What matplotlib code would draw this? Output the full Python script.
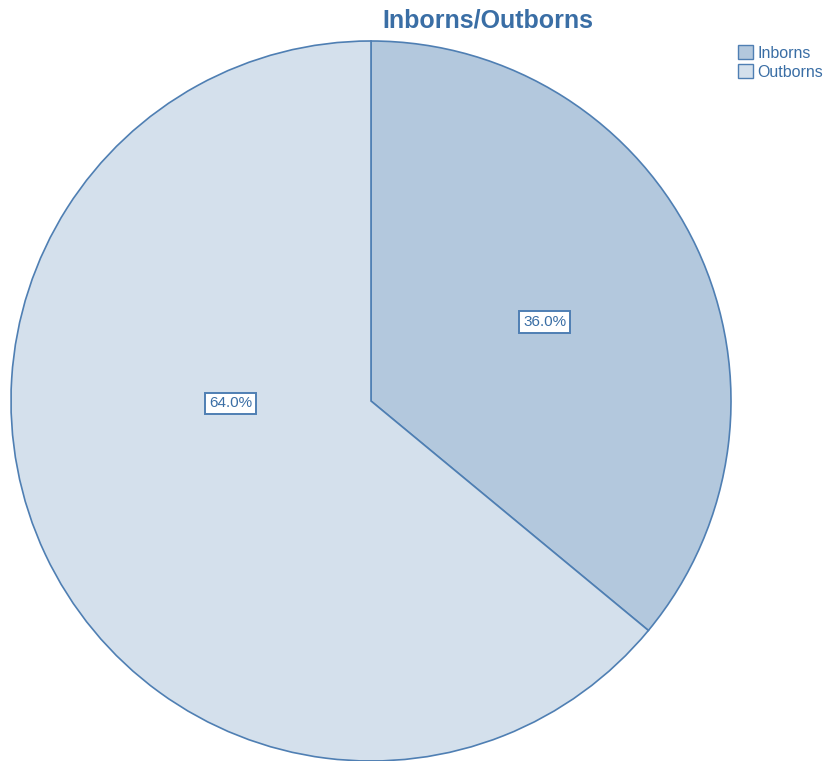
import matplotlib
matplotlib.use("Agg")
import matplotlib.pyplot as plt
from matplotlib.patches import Patch
import numpy as np

categories = ['Inborns', 'Outborns']
shares = [36.0, 64.0]
colors = ['#b3c8dd', '#d4e0ec']
edge = '#4f7fb3'
text_blue = '#3a6ea5'

# label placement: angle (deg) and distance from centre, as fraction of radius
label_angle = [24.5, 181.0]
label_dist = [0.53, 0.39]

plt.rcParams['font.family'] = ['Liberation Sans', 'DejaVu Sans']

fig = plt.figure(figsize=(8.3, 7.61), dpi=100)
ax = fig.add_axes([10 / 830, 0.0, 722 / 830, 720 / 761])
ax.pie(shares, colors=colors, startangle=90, counterclock=False,
       wedgeprops=dict(edgecolor=edge, linewidth=1.2))
ax.set_xlim(-1.0, 1.0)
ax.set_ylim(-1.0, 1.0)
ax.set_aspect('equal')
ax.axis('off')

for val, ang, d in zip(shares, label_angle, label_dist):
    a = np.radians(ang)
    ax.text(d * np.cos(a), d * np.sin(a), '%.1f%%' % val, ha='center', va='center',
            fontsize=11, color=text_blue,
            bbox=dict(boxstyle='square,pad=0.25', facecolor='white', edgecolor=edge, linewidth=1.4))

fig.text(488 / 830, 1 - 21 / 761, 'Inborns/Outborns', ha='center', va='center',
         fontsize=18, fontweight='bold', color=text_blue)

handles = [Patch(facecolor=c, edgecolor=edge, label=l) for c, l in zip(colors, categories)]
fig.legend(handles=handles, loc='upper left', bbox_to_anchor=(735 / 830, 1 - 42 / 761),
           frameon=False, fontsize=11.5, labelcolor=text_blue, handlelength=0.9, handleheight=1.0,
           handletextpad=0.3, labelspacing=0.2, borderpad=0.2, borderaxespad=0)

fig.savefig('out.png', dpi=100)
